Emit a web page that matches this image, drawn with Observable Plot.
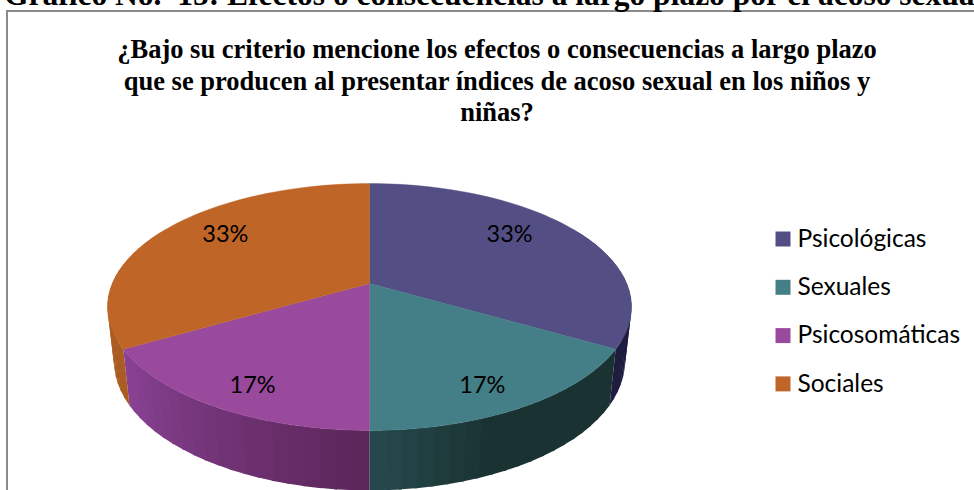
<!DOCTYPE html>
<html lang="es">
<head>
<meta charset="utf-8">
<script src="https://cdn.jsdelivr.net/npm/d3@7"></script>
<script src="https://cdn.jsdelivr.net/npm/@observablehq/plot@0.6"></script>
<style>
  html, body { margin: 0; padding: 0; background: #fff; overflow: hidden; }
  #page { position: relative; width: 974px; height: 490px; overflow: hidden; }
  #heading { position: absolute; left: 4px; top: -23px; white-space: pre; font: bold 31.5px "Liberation Serif", serif; color: #000; }
  #frame { position: absolute; left: 6px; top: 10px; width: 990px; height: 500px; border: 2px solid #8a8a8a; box-sizing: border-box; }
  #title { position: absolute; left: 0; width: 994px; top: 34px; text-align: center; font: bold 26.5px/31.5px "Liberation Serif", serif; color: #000; }
  #chart { position: absolute; left: 0; top: 170px; }
  svg { display: block; background: transparent !important; }
</style>
</head>
<body>
<div id="page">
  <div id="frame"></div>
  <div id="heading">Gráfico No.  15: Efectos o consecuencias a largo plazo por el acoso sexual</div>
  <div id="title">¿Bajo su criterio mencione los efectos o consecuencias a largo plazo<br>que se producen al presentar índices de acoso sexual en los niños y<br>niñas?</div>
  <div id="chart"></div>
</div>
<script>
const categories = ["Psicológicas", "Sexuales", "Psicosomáticas", "Sociales"];
const shares = [33.33, 16.67, 16.67, 33.33];
const topColors = ["#534f85", "#447e86", "#9a4a9d", "#bf6527"];
const wallNear = ["#1e1c3f", "#264a4e", "#5a2558", "#ab5c22"];
const wallFar = ["#1e1c3f", "#1a3232", "#8a4395", "#ab5c22"];

const rad = d => d * Math.PI / 180;
const tilt = 0.1903;
const topRim = {b: 257.2, a: 119, y0: 283};
const lowRim = {b: 250.8, a: 124.5, y0: 336.2};
const cx = 369;
function project(rim, u, v) {
  const w = 1 - tilt * v;
  return {x: cx + rim.b * u / w, y: rim.y0 + rim.a * v / w};
}
const onRim = (rim, deg, r = 1) => project(rim, r * Math.sin(rad(deg)), -r * Math.cos(rad(deg)));

const total = d3.sum(shares);
let acc = 0;
const slices = categories.map((name, i) => {
  const start = acc / total * 360;
  acc += shares[i];
  return {name, i, start, end: acc / total * 360, share: shares[i] / total};
});

const faces = slices.flatMap(s => {
  const pts = [{x: cx, y: topRim.y0}];
  for (let a = s.start; a <= s.end + 1e-6; a += (s.end - s.start) / 60) pts.push(onRim(topRim, a));
  pts.push({x: cx, y: topRim.y0});
  return pts.map(p => ({...p, key: s.name, color: topColors[s.i]}));
});

const walls = slices.flatMap(s => {
  const from = Math.max(s.start, 60), to = Math.min(s.end, 300);
  const rows = [];
  const step = 3;
  for (let a = from; a < to - 1e-6; a += step) {
    const b = Math.min(a + step + 0.6, to);
    const dist = Math.abs((a + b) / 2 - 180);
    const t = s.i === 1 ? Math.min(1, dist / 22) : Math.min(1, dist / 60);
    const color = d3.rgb(d3.interpolateRgb(wallNear[s.i], wallFar[s.i])(t)).formatHex();
    const key = s.name + a;
    [onRim(topRim, a), onRim(topRim, b), onRim(lowRim, b), onRim(lowRim, a), onRim(topRim, a)]
      .forEach(p => rows.push({...p, key, color}));
  }
  return rows;
});

const labels = slices.map(s => {
  const mid = (s.start + s.end) / 2;
  const side = mid < 180 ? 1 : -1;
  const base = mid < 180 ? mid : 360 - mid;
  const vm = -Math.cos(rad(base));
  const turn = -3.34 + 7.32 * vm;
  const r = 0.773 + 0.066 * vm;
  const p = onRim(topRim, side * (base + turn), r);
  return {...p, text: d3.format(".0%")(s.share), side};
});

const legend = slices.map(s => ({name: s.name, color: topColors[s.i], y: 238.5 + s.i * 48.3}));

const font = "Lato, sans-serif";
const plot = Plot.plot({
  width: 974,
  height: 320,
  margin: 0,
  style: {background: "transparent", overflow: "hidden"},
  x: {domain: [0, 974], range: [0, 974], axis: null},
  y: {domain: [170, 490], range: [0, 320], axis: null},
  color: {type: "identity"},
  marks: [
    Plot.line(walls, {x: "x", y: "y", z: "key", fill: "color", stroke: "none", curve: "linear"}),
    Plot.line(faces, {x: "x", y: "y", z: "key", fill: "color", stroke: "color", strokeWidth: 0.4, curve: "linear"}),
    Plot.text(labels.filter(d => d.side > 0), {x: "x", y: "y", text: "text", fill: "#000", fontSize: 23.5, fontFamily: font}),
    Plot.text(labels.filter(d => d.side < 0), {x: "x", y: "y", text: "text", dx: -4, fill: "#000", fontSize: 23.5, fontFamily: font}),
    Plot.dot(legend, {x: () => 782.5, y: "y", fill: "color", symbol: "square", r: 8.46, stroke: "none"}),
    Plot.text(legend, {x: () => 797, y: "y", text: "name", textAnchor: "start", fill: "#000", fontSize: 24.5, fontFamily: font})
  ]
});
document.getElementById("chart").append(plot);
</script>
</body>
</html>
